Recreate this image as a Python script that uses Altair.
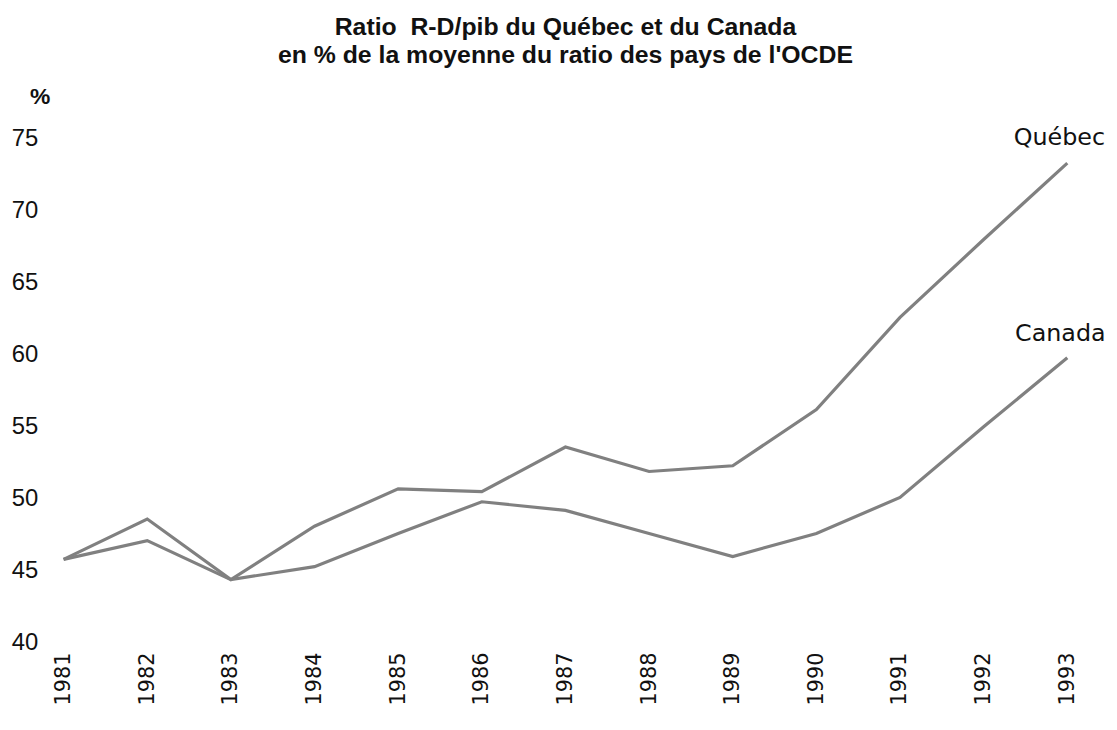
import altair as alt
import pandas as pd

years = ["1981", "1982", "1983", "1984", "1985", "1986", "1987",
         "1988", "1989", "1990", "1991", "1992", "1993"]
quebec = [45.8, 48.6, 44.4, 48.1, 50.7, 50.5, 53.6, 51.9, 52.3, 56.2, 62.6, 68.0, 73.3]
canada = [45.8, 47.1, 44.4, 45.3, 47.6, 49.8, 49.2, 47.6, 46.0, 47.6, 50.1, 55.0, 59.8]
series_names = ["Québec", "Canada"]

rows = []
for name, vals in zip(series_names, [quebec, canada]):
    for y, v in zip(years, vals):
        rows.append({"annee": y, "valeur": v, "serie": name})
df = pd.DataFrame(rows)
lab = pd.DataFrame({"annee": [years[-1]] * 2, "valeur": [quebec[-1], canada[-1]],
                    "serie": series_names})

x = alt.X("annee:O", sort=years,
          scale=alt.Scale(type="point", padding=0),
          axis=alt.Axis(title=None, labelAngle=-90, labelAlign="right", labelBaseline="middle",
                        labelFontSize=21, labelFont="DejaVu Sans", labelColor="#111111",
                        labelPadding=9, domain=False, ticks=False, grid=False))
y = alt.Y("valeur:Q", scale=alt.Scale(domain=[40, 75], nice=False, zero=False),
          axis=alt.Axis(title="%", titleAngle=0, titleX=-24, titleY=-30, titleFontSize=23,
                        titleFont="Liberation Sans", titleFontWeight="bold", titleColor="#111111",
                        values=[40, 45, 50, 55, 60, 65, 70, 75], labelFontSize=24,
                        labelFont="Liberation Sans", labelColor="#111111", labelPadding=26,
                        domain=False, ticks=False, grid=False))

lines = alt.Chart(df).mark_line(color="#808080", strokeWidth=3.2).encode(
    x=x, y=y, detail="serie:N")

txt_q = alt.Chart(lab[lab.serie == "Québec"]).mark_text(
    fontSize=24, font="DejaVu Sans", color="#111111", align="center", dx=-8, dy=-25
).encode(x=alt.X("annee:O", sort=years), y="valeur:Q", text="serie:N")
txt_c = alt.Chart(lab[lab.serie == "Canada"]).mark_text(
    fontSize=24, font="DejaVu Sans", color="#111111", align="center", dx=-7, dy=-24
).encode(x=alt.X("annee:O", sort=years), y="valeur:Q", text="serie:N")

chart = alt.layer(lines, txt_q, txt_c).properties(
    width=1011, height=508,
    title=alt.TitleParams(text=["Ratio\u00a0 R-D/pib du Québec et du Canada",
                                "en % de la moyenne du ratio des pays de l'OCDE"],
                          fontSize=25, font="Liberation Sans", fontWeight="bold",
                          color="#111111", anchor="middle", offset=18, lineHeight=28),
    autosize=alt.AutoSizeParams(type="none"),
    padding={"left": 56, "top": 129, "right": 42, "bottom": 77},
).configure_view(stroke=None)

chart.save("out.html", embed_options={"renderer": "svg", "actions": False})
